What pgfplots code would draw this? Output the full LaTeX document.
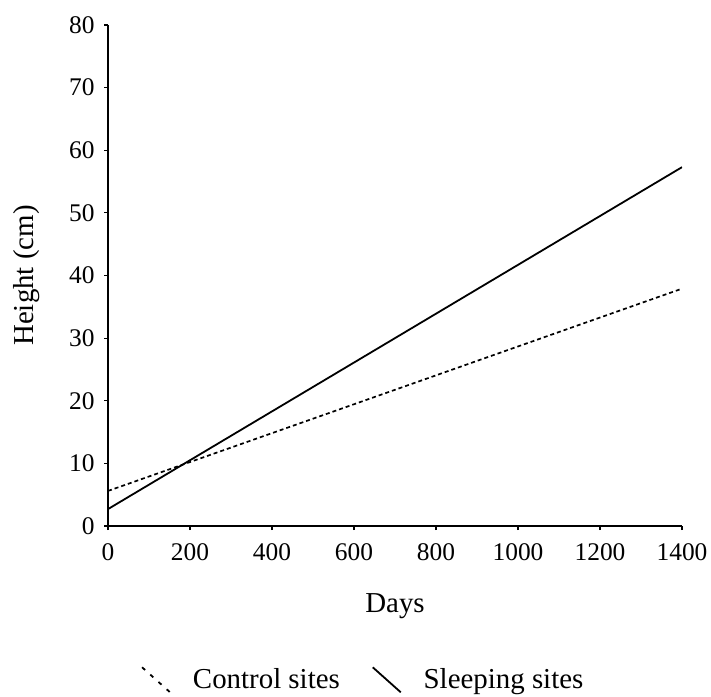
\documentclass[border=0pt]{standalone}
\usepackage{fontspec}
\setmainfont{Liberation Serif}
\usepackage{pgfplots}
\pgfplotsset{compat=1.18}
\begin{document}
\begin{tikzpicture}
\path[use as bounding box] (0,0) rectangle (711bp,697bp);
\begin{axis}[
  at={(108bp,171bp)}, anchor=south west,
  scale only axis, width=574bp, height=501bp,
  xmin=0, xmax=1400, ymin=0, ymax=80,
  axis x line*=bottom, axis y line*=left,
  xtick={0,200,...,1400}, ytick={0,10,...,80},
  tick align=outside, major tick length=4bp,
  tick style={black, line width=1.2bp},
  axis line style={black, line width=1.2bp},
  /pgf/number format/assume math mode=true,
  /pgf/number format/1000 sep={},
  tick label style={font=\fontsize{25.5}{30}\selectfont},
  yticklabel style={xshift=-6bp},
  xticklabel style={yshift=-10bp},
  label style={font=\fontsize{29}{34}\selectfont},
  xlabel={Days},
  ylabel={Height (cm)},
  xlabel style={at={(axis description cs:0.5,0)}, anchor=base, yshift=-86bp},
  ylabel style={at={(axis description cs:-0.141,0.5)}, anchor=center},
  legend columns=2,
  legend cell align=left,
  legend style={draw=none, fill=none, at={(axis description cs:0.443,-0.307)}, anchor=center,
    font=\fontsize{29}{34}\selectfont,
    /tikz/every odd column/.append style={column sep=22bp},
    /tikz/every even column/.append style={column sep=32bp},
    nodes={inner sep=0pt}},
  legend image code/.code={\draw[#1] (0bp,12bp) -- (28bp,-13bp);},
]
\addlegendimage{black, line width=1.8bp, dash pattern=on 4bp off 7bp}
\addlegendentry{Control sites}
\addlegendimage{black, line width=1.8bp}
\addlegendentry{Sleeping sites}
\addplot[black, line width=1.7bp, dash pattern=on 4bp off 3bp, forget plot] coordinates {(0,5.6) (1400,37.9)};
\addplot[black, line width=1.8bp, forget plot] coordinates {(0,2.7) (1400,57.3)};
\end{axis}
\end{tikzpicture}
\end{document}
